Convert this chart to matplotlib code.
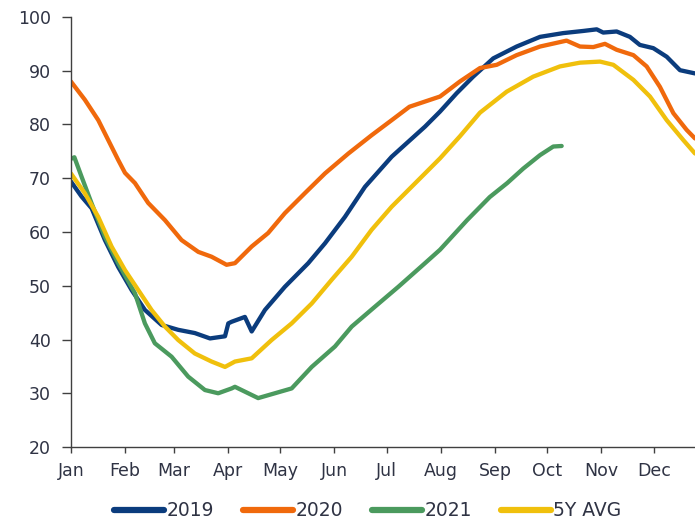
import matplotlib
matplotlib.use("Agg")
import matplotlib.pyplot as plt

# Day-of-year positions and values
days_2019 = [0, 6.1, 11.9, 19.5, 27.1, 34.8, 42.4, 52, 61.5, 71, 79.7, 88.3, 90.2, 92.1,
             99.7, 103.6, 111.2, 122.6, 136, 145.6, 157, 168.5, 183.8, 202.9, 211.5,
             221, 230.5, 242, 255.4, 268.8, 282.1, 293.6, 301.3, 305, 312.7, 320.3, 326,
             333.7, 341.4, 349, 357.6]
vals_2019 = [69.4, 66.6, 64.4, 58.5, 53.5, 49.2, 45.5, 42.7, 41.8, 41.2, 40.2, 40.6, 43.0, 43.3,
             44.2, 41.5, 45.5, 49.8, 54.2, 57.9, 62.8, 68.4, 74.0, 79.6, 82.4,
             85.8, 88.9, 92.3, 94.5, 96.3, 97.0, 97.4, 97.7, 97.1, 97.3, 96.3, 94.8,
             94.2, 92.6, 90.1, 89.5]

days_2020 = [0, 8, 15.7, 21.4, 27.1, 31, 36.7, 44.3, 53.9, 63.4, 73, 80.6, 89.2, 94,
             103.6, 113, 122.6, 134, 145.6, 159, 172.3, 183.8, 194, 211.5, 222.9, 234.4,
             244, 255.4, 268.8, 284, 291.7, 299.3, 306, 312.7, 322.3, 329.9, 337.5, 345.2,
             352.8, 357.6]
vals_2020 = [88.0, 84.6, 80.8, 77.1, 73.4, 71.0, 69.1, 65.4, 62.2, 58.5, 56.3, 55.4, 53.9, 54.2,
             57.3, 59.8, 63.5, 67.2, 70.9, 74.6, 78.0, 80.8, 83.3, 85.2, 88.0, 90.5,
             91.1, 92.9, 94.5, 95.6, 94.5, 94.4, 95.0, 93.9, 92.9, 90.8, 87.0, 82.1,
             79.0, 77.4]

days_2021 = [0, 2, 6.1, 11.9, 19.5, 27.1, 36.7, 42.4, 48.1, 57.7, 67.2, 76.8, 84.4, 92.1,
             94, 99.7, 107.3, 116.9, 126.5, 138, 151.3, 160.9, 174.2, 187.6, 202.9, 211.5,
             227, 240, 250, 259.2, 268.8, 276.4, 281.2]
vals_2021 = [73.6, 73.9, 70.3, 65.3, 59.1, 54.2, 48.6, 43.0, 39.3, 36.8, 33.1, 30.6, 30.0, 30.9,
             31.2, 30.3, 29.1, 30.0, 30.9, 34.9, 38.7, 42.4, 46.1, 49.8, 54.2, 56.7,
             62.2, 66.5, 69.1, 71.8, 74.3, 75.9, 76.0]

days_avg = [0, 8, 15.7, 23.3, 31, 38.6, 46.2, 53.9, 61.5, 71, 80.6, 88.3, 94, 103.6, 115,
            126.5, 138, 149.4, 160.9, 172.3, 183.8, 195.2, 202.9, 211.5, 222.9, 234.4,
            249.7, 264.9, 280.2, 291.7, 303.2, 310.8, 322.3, 331.8, 341.4, 350.9, 357.6]
vals_avg = [70.9, 67.2, 62.8, 57.3, 52.9, 49.2, 45.5, 42.4, 39.9, 37.4, 35.9, 34.9, 35.9, 36.5,
            39.9, 43.0, 46.7, 51.1, 55.4, 60.4, 64.7, 68.4, 70.9, 73.7, 77.8, 82.2,
            86.1, 88.9, 90.8, 91.5, 91.7, 91.1, 88.3, 85.2, 80.8, 77.1, 74.6]

month_ticks = [0, 31, 59, 90, 120, 151, 181, 212, 243, 273, 304, 334]
month_labels = ["Jan", "Feb", "Mar", "Apr", "May", "Jun", "Jul", "Aug", "Sep", "Oct", "Nov", "Dec"]
y_ticks = [20, 30, 40, 50, 60, 70, 80, 90, 100]

series = [
    ("2019", days_2019, vals_2019, "#0b3c7d"),
    ("2020", days_2020, vals_2020, "#f0690c"),
    ("2021", days_2021, vals_2021, "#4b9a5e"),
    ("5Y AVG", days_avg, vals_avg, "#f0c00c"),
]

plt.rcParams["font.family"] = ["DejaVu Sans"]
text_color = "#2f3344"

fig = plt.figure(figsize=(6.95, 5.19), dpi=100)
ax = fig.add_axes([0.102, 0.1387, 0.898, 0.8286])

for name, d, v, c in series:
    ax.plot(d, v, color=c, lw=3.1, label=name, solid_capstyle="round",
            solid_joinstyle="round")

ax.set_xlim(0, 357.6)
ax.set_ylim(20, 100)
ax.set_xticks(month_ticks)
ax.set_xticklabels(month_labels)
ax.set_yticks(y_ticks)

for s in ["top", "right"]:
    ax.spines[s].set_visible(False)
for s in ["left", "bottom"]:
    ax.spines[s].set_color("#404040")
    ax.spines[s].set_linewidth(1.0)

ax.tick_params(axis="y", direction="out", length=6.5, width=1.0, color="#404040",
               labelsize=12.5, labelcolor=text_color, pad=8)
ax.tick_params(axis="x", direction="out", length=4.5, width=1.0, color="#404040",
               labelsize=12.5, labelcolor=text_color, pad=6)

handles, labels = ax.get_legend_handles_labels()
leg = fig.legend(handles, labels, loc="center", bbox_to_anchor=(0.529, 0.016), ncol=4,
                 frameon=False, fontsize=13.5, handlelength=2.7, handletextpad=0.1,
                 columnspacing=1.55, borderaxespad=0)
for line in leg.get_lines():
    line.set_linewidth(4.5)
for t in leg.get_texts():
    t.set_color(text_color)

fig.savefig("out.png", dpi=100)
